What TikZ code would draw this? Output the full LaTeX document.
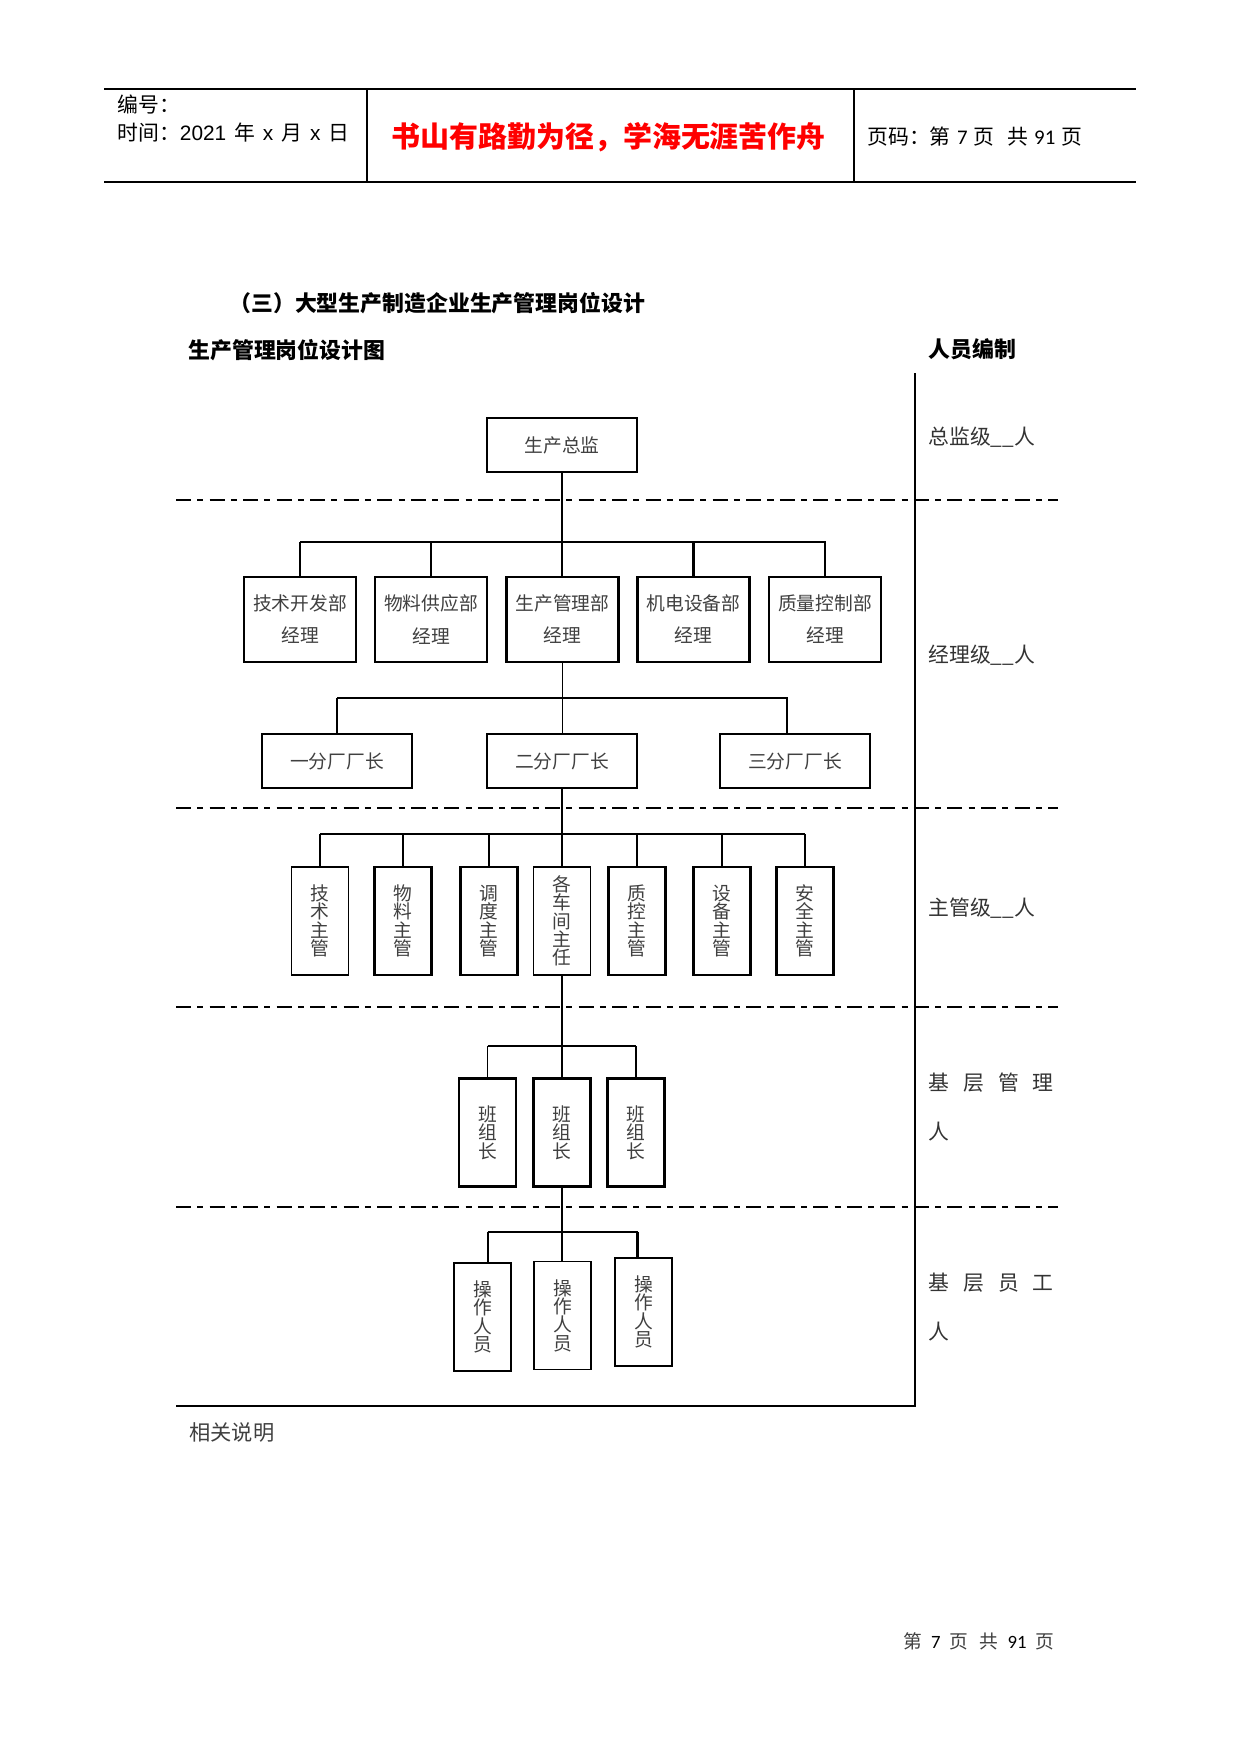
\documentclass[tikz,border=0pt]{standalone}
\usepackage{fontspec}
\setmainfont{Noto Sans CJK SC}
\newfontfamily\latfont{Liberation Sans}
\newfontfamily\calfont{Carlito}
\usetikzlibrary{calc}
\tikzset{
  conn/.style={line width=0.5pt},
  connb/.style={line width=1pt},
  box/.style={draw, line width=0.6pt, inner sep=0pt, text=black!75,
    font=\fontsize{9}{15.4}\selectfont, align=center},
  boxb/.style={box, line width=1.1pt},
  boxm/.style={box, line width=0.85pt},
  wide/.style={minimum width=72pt, minimum height=25.92pt},
  mgr/.style={minimum width=53.76pt, minimum height=40.8pt},
  tall/.style={minimum width=27.36pt, minimum height=51.84pt, font=\fontsize{9}{8.8}\selectfont},
  divider/.style={line width=0.6pt, dash pattern=on 7.2pt off 3pt on 2.9pt off 3pt},
  lbl/.style={anchor=west, inner sep=0pt, font=\fontsize{10}{12}\selectfont, text=black!80},
  hdr/.style={anchor=west, inner sep=0pt, font=\fontsize{10}{12}\selectfont},
  ttl/.style={anchor=west, inner sep=0pt, font=\fontsize{10.5}{12}\selectfont\bfseries},
}
\begin{document}
\begin{tikzpicture}[x=0.48pt,y=-0.48pt]
\useasboundingbox (0,0) rectangle (1241,1754);
\fill[white] (0,0) rectangle (1241,1754);

% ---------- header ----------
\coordinate (h1) at (104,89);  \coordinate (h2) at (1136,89);
\coordinate (h3) at (104,182); \coordinate (h4) at (1136,182);
\coordinate (v1t) at (367,89); \coordinate (v1b) at (367,182);
\coordinate (v2t) at (854,89); \coordinate (v2b) at (854,182);
\draw[line width=0.6pt] (h1) -- (h2);
\draw[line width=0.6pt] (h3) -- (h4);
\draw[line width=1pt] (v1t) -- (v1b);
\draw[line width=0.6pt] (v2t) -- (v2b);
\node[hdr] (bh) at (117,105) {编号：};
\node[hdr] (sj) at (117,133) {时间：{\latfont 2021}\hspace{3.8pt}年\hspace{3.8pt}{\latfont x}\hspace{3.8pt}月\hspace{3.8pt}{\latfont x}\hspace{3.8pt}日};
\node[anchor=west, inner sep=0pt, text=red, font=\fontsize{13.9}{16}\selectfont\bfseries] (motto) at (391,137)
  {书山有路勤为径，学海无涯苦作舟};
\node[hdr] (ym) at (867,137) {页码：第\hspace{3pt}{\calfont 7}\hspace{3pt}页\hspace{6pt}共\hspace{3pt}{\calfont 91}\hspace{3pt}页};

% ---------- titles ----------
\node[ttl] (title) at (229,303) {（三）大型生产制造企业生产管理岗位设计};
\node[ttl] (sub) at (188,350) {生产管理岗位设计图};
\node[ttl] (ry) at (928,349) {人员编制};

% ---------- frame & dividers ----------
\coordinate (frt) at (915,373);
\coordinate (frb) at (915,1406);
\coordinate (frl) at (176,1406);
\draw[line width=0.6pt] (frt) -- (frb) -- (frl);
\foreach \yy in {500,808,1007,1207}
  \draw[divider] (176,\yy) -- (1058,\yy);

% ---------- right labels ----------
\node[lbl] (L1) at (928,437) {总监级\_\_人};
\node[lbl] (L2) at (928,655) {经理级\_\_人};
\node[lbl] (L3) at (928,908) {主管级\_\_人};
\node[lbl] (L4a) at (928,1083) {基\hspace{6.7pt}层\hspace{6.7pt}管\hspace{6.7pt}理};
\node[lbl] (L4b) at (928,1132) {人};
\node[lbl] (L5a) at (928,1283) {基\hspace{6.7pt}层\hspace{6.7pt}员\hspace{6.7pt}工};
\node[lbl] (L5b) at (928,1332) {人};

% ---------- level 1 ----------
\node[box,wide] (zj) at (562,445) {生产总监};

% ---------- level 2 managers ----------
\node[boxb,mgr] (m1) at (300,619.5) {技术开发部\\经理};
\node[boxb,mgr] (m2) at (431,619.5) {物料供应部\\经理};
\node[boxb,mgr] (m3) at (562.5,619.5) {生产管理部\\经理};
\node[boxb,mgr] (m4) at (693.5,619.5) {机电设备部\\经理};
\node[boxm,mgr] (m5) at (825,619.5) {质量控制部\\经理};

\coordinate (b1) at (562,542);
\coordinate (b1r) at (475,542);
\draw[conn] (zj.south) -- (zj.south |- m3.north);
\draw[conn] (m1.north |- b1) -- (b1);
\draw[connb] (m1.north) -- (m1.north |- b1);
\draw[conn] (m2.north) -- (m2.north |- b1);
\draw[connb] (b1r) -| (m5.north);
\draw[connb] (m4.north) -- (m4.north |- b1);

% ---------- factories ----------
\node[box,wide] (f1) at (337,761) {一分厂厂长};
\node[box,wide] (f2) at (562,761) {二分厂厂长};
\node[box,wide] (f3) at (795,761) {三分厂厂长};

\coordinate (b2) at (562,698);
\coordinate (b2l) at (487,698);
\coordinate (c3) at (787,698);
\draw[conn] (m3.south) -- (m3.south |- f2.north);
\draw[conn] (f1.north) -- (f1.north |- b2);
\draw[connb] (f1.north |- b2) -- (b2l);
\draw[conn] (b2l) -- (c3) -- (c3 |- f3.north);

% ---------- supervisors ----------
\node[box,tall] (s1) at (320,921) {技\\术\\主\\管};
\node[boxb,tall] (s2) at (403,921) {物\\料\\主\\管};
\node[boxb,tall] (s3) at (489,921) {调\\度\\主\\管};
\node[boxm,tall] (s4) at (562,921) {各\\车\\间\\主\\任};
\node[boxb,tall] (s5) at (637,921) {质\\控\\主\\管};
\node[boxb,tall] (s6) at (722,921) {设\\备\\主\\管};
\node[boxb,tall] (s7) at (805,921) {安\\全\\主\\管};

\coordinate (b3) at (562,834);
\coordinate (stub) at (562,808);
\draw[conn] (f2.south) -- (s4.north);
\draw[connb] (f2.south) -- (stub);
\draw[connb] (s1.north |- b3) -- (s7.north |- b3);
\draw[conn] (s1.north) -- (s1.north |- b3);
\foreach \n in {s2,s3,s5,s6,s7}
  \draw[connb] (\n.north) -- (\n.north |- b3);

% ---------- team leaders ----------
\node[boxb,tall] (t1) at (487.5,1132.5) {班\\组\\长};
\node[boxb,tall] (t2) at (562,1132.5) {班\\组\\长};
\node[boxb,tall] (t3) at (636,1132.5) {班\\组\\长};

\coordinate (b4) at (562,1046);
\draw[connb] (s4.south) -- (t2.north);
\draw[connb] (t1.north |- b4) -- (t3.north |- b4);
\draw[conn] (t1.north) -- (t1.north |- b4);
\draw[conn] (t3.north) -- (t3.north |- b4);

% ---------- operators ----------
\node[boxb,tall] (o1) at (482.5,1317) {操\\作\\人\\员};
\node[boxm,tall] (o2) at (562.5,1315.5) {操\\作\\人\\员};
\node[boxb,tall] (o3) at (643.5,1312) {操\\作\\人\\员};

\coordinate (d1) at (487.7,1232);
\coordinate (d3) at (637.5,1232);
\draw[conn] (t2.south) -- (t2.south |- o2.north);
\draw[conn] (d1) -- (d3);
\draw[connb] (d1) -- (d1 |- o1.north);
\draw[connb] (d3) -- (d3 |- o3.north);

% ---------- bottom texts ----------
\node[anchor=west, inner sep=0pt, text=black!75, font=\fontsize{10.2}{12}\selectfont] (xg) at (189,1432) {相关说明};
\node[anchor=west, inner sep=0pt, text=black!75, font=\fontsize{9}{11}\selectfont] (foot) at (903,1641)
  {第\hspace{4.3pt}{\calfont\color{black}7}\hspace{4.3pt}页\hspace{5.5pt}共\hspace{4.3pt}{\calfont\color{black}91}\hspace{4.3pt}页};
\end{tikzpicture}
\end{document}
